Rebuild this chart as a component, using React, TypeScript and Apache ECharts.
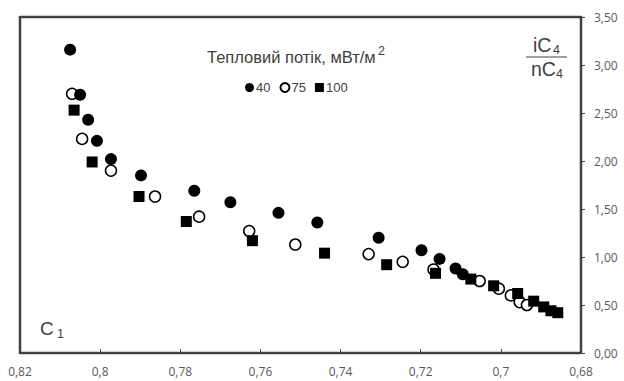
import React, { useEffect, useRef } from "react";
import * as echarts from "echarts";

// Heat flow 40 mW/m2 (filled circles)
const x40 = [0.8075, 0.805, 0.803, 0.8008, 0.7973, 0.7898, 0.7765, 0.7675, 0.7555, 0.7458, 0.7305, 0.7198, 0.7153, 0.7113, 0.7095];
const y40 = [3.16, 2.69, 2.43, 2.21, 2.02, 1.85, 1.69, 1.57, 1.46, 1.36, 1.2, 1.07, 0.98, 0.88, 0.82];
// 75 mW/m2 (open circles)
const x75 = [0.807, 0.8045, 0.7973, 0.7863, 0.7753, 0.7628, 0.7513, 0.733, 0.7245, 0.7168, 0.7053, 0.7005, 0.6975, 0.6953, 0.6935];
const y75 = [2.7, 2.23, 1.9, 1.63, 1.42, 1.27, 1.13, 1.03, 0.95, 0.87, 0.75, 0.67, 0.6, 0.53, 0.5];
// 100 mW/m2 (filled squares)
const x100 = [0.8065, 0.802, 0.7903, 0.7785, 0.762, 0.744, 0.7285, 0.7163, 0.7075, 0.7018, 0.6958, 0.6918, 0.6893, 0.6875, 0.6858];
const y100 = [2.53, 1.99, 1.63, 1.37, 1.17, 1.04, 0.92, 0.83, 0.77, 0.7, 0.62, 0.54, 0.48, 0.44, 0.42];

const seriesNames = ["40", "75", "100"];
const legendTitle = "Тепловий потік, мВт/м";
const X_MIN = 0.68, X_MAX = 0.82, Y_MIN = 0, Y_MAX = 3.5;

const zip = (xs: number[], ys: number[]) => xs.map((x, i) => [x, ys[i]]);

export default function App() {
  const ref = useRef<HTMLDivElement>(null);
  useEffect(() => {
    if (!ref.current) return;
    const chart = echarts.init(ref.current, undefined, { renderer: "svg" });
    const axisFont = { fontFamily: "Open Sans", fontSize: 12, color: "#595959" };
    chart.setOption({
      animation: false,
      backgroundColor: "#fff",
      grid: { left: 20, right: 43, top: 17, bottom: 28 },
      legend: {
        data: [seriesNames[0], seriesNames[1], seriesNames[2]],
        left: 240,
        top: 76,
        itemWidth: 9,
        itemHeight: 9,
        itemGap: 9,
        textStyle: { fontFamily: "Liberation Sans", fontSize: 13, color: "#404040", padding: [0, 0, 0, -3] },
      },
      xAxis: {
        type: "value",
        inverse: true,
        min: X_MIN,
        max: X_MAX,
        interval: 0.02,
        splitLine: { show: false },
        axisLine: { show: false },
        axisTick: { show: true, inside: true, length: 4, lineStyle: { color: "#404040" } },
        axisLabel: {
          ...axisFont,
          margin: 12,
          formatter: (v: number) => String(+v.toFixed(2)).replace(".", ","),
        },
      },
      yAxis: {
        type: "value",
        position: "right",
        min: Y_MIN,
        max: Y_MAX,
        interval: 0.5,
        splitLine: { show: false },
        axisLine: { show: false },
        axisTick: { show: true, inside: false, length: 4, lineStyle: { color: "#404040" } },
        axisLabel: {
          ...axisFont,
          margin: 13,
          formatter: (v: number) => v.toFixed(2).replace(".", ","),
        },
      },
      series: [
        {
          name: seriesNames[1],
          type: "scatter",
          symbol: "circle",
          symbolSize: 11,
          itemStyle: { color: "#fff", borderColor: "#000", borderWidth: 1.5, opacity: 1 },
          data: zip(x75, y75),
          z: 2,
        },
        {
          name: seriesNames[0],
          type: "scatter",
          symbol: "circle",
          symbolSize: 12,
          itemStyle: { color: "#000", opacity: 1 },
          data: zip(x40, y40),
          z: 3,
        },
        {
          name: seriesNames[2],
          type: "scatter",
          symbol: "rect",
          symbolSize: 11,
          itemStyle: { color: "#000", opacity: 1 },
          data: zip(x100, y100),
          z: 4,
        },
      ],
    });
    const p1 = chart.convertToPixel({ gridIndex: 0 }, [X_MAX, Y_MAX]) as number[];
    const p2 = chart.convertToPixel({ gridIndex: 0 }, [X_MIN, Y_MIN]) as number[];
    const L = Math.min(p1[0], p2[0]), R = Math.max(p1[0], p2[0]);
    const T = Math.min(p1[1], p2[1]), B = Math.max(p1[1], p2[1]);
    const frame = (x1: number, y1: number, x2: number, y2: number) => ({
      type: "line",
      z: 10,
      shape: { x1, y1, x2, y2 },
      style: { stroke: "#404040", lineWidth: 2.5 },
    });
    chart.setOption({
      graphic: [
        frame(L, T, R, T),
        frame(L, B, R, B),
        frame(L, T - 1, L, B + 1),
        frame(R, T - 1, R, B + 1),
        {
          type: "text",
          left: 207,
          top: 48,
          style: { text: legendTitle, font: '16.5px "Liberation Sans"', fill: "#404040" },
        },
        {
          type: "text",
          left: 378,
          top: 44,
          style: { text: "2", font: '12.5px "Liberation Sans"', fill: "#404040" },
        },
        {
          type: "text",
          left: 533,
          top: 35,
          style: { text: "iC", font: '19.5px "Liberation Sans"', fill: "#404040" },
        },
        {
          type: "text",
          left: 553,
          top: 43,
          style: { text: "4", font: '12.5px "Liberation Sans"', fill: "#404040" },
        },
        {
          type: "line",
          shape: { x1: 526, y1: 57, x2: 567, y2: 57 },
          style: { stroke: "#404040", lineWidth: 1 },
        },
        {
          type: "text",
          left: 531,
          top: 59,
          style: { text: "nC", font: '19.5px "Liberation Sans"', fill: "#404040" },
        },
        {
          type: "text",
          left: 556,
          top: 67,
          style: { text: "4", font: '12.5px "Liberation Sans"', fill: "#404040" },
        },
        {
          type: "text",
          left: 40,
          top: 319,
          style: { text: "C", font: '19px "Liberation Sans"', fill: "#404040" },
        },
        {
          type: "text",
          left: 57,
          top: 327,
          style: { text: "1", font: '12.5px "Liberation Sans"', fill: "#404040" },
        },
      ],
    });
    return () => chart.dispose();
  }, []);
  return <div ref={ref} style={{ width: 624, height: 381, position: "absolute", left: 0, top: 0 }} />;
}
